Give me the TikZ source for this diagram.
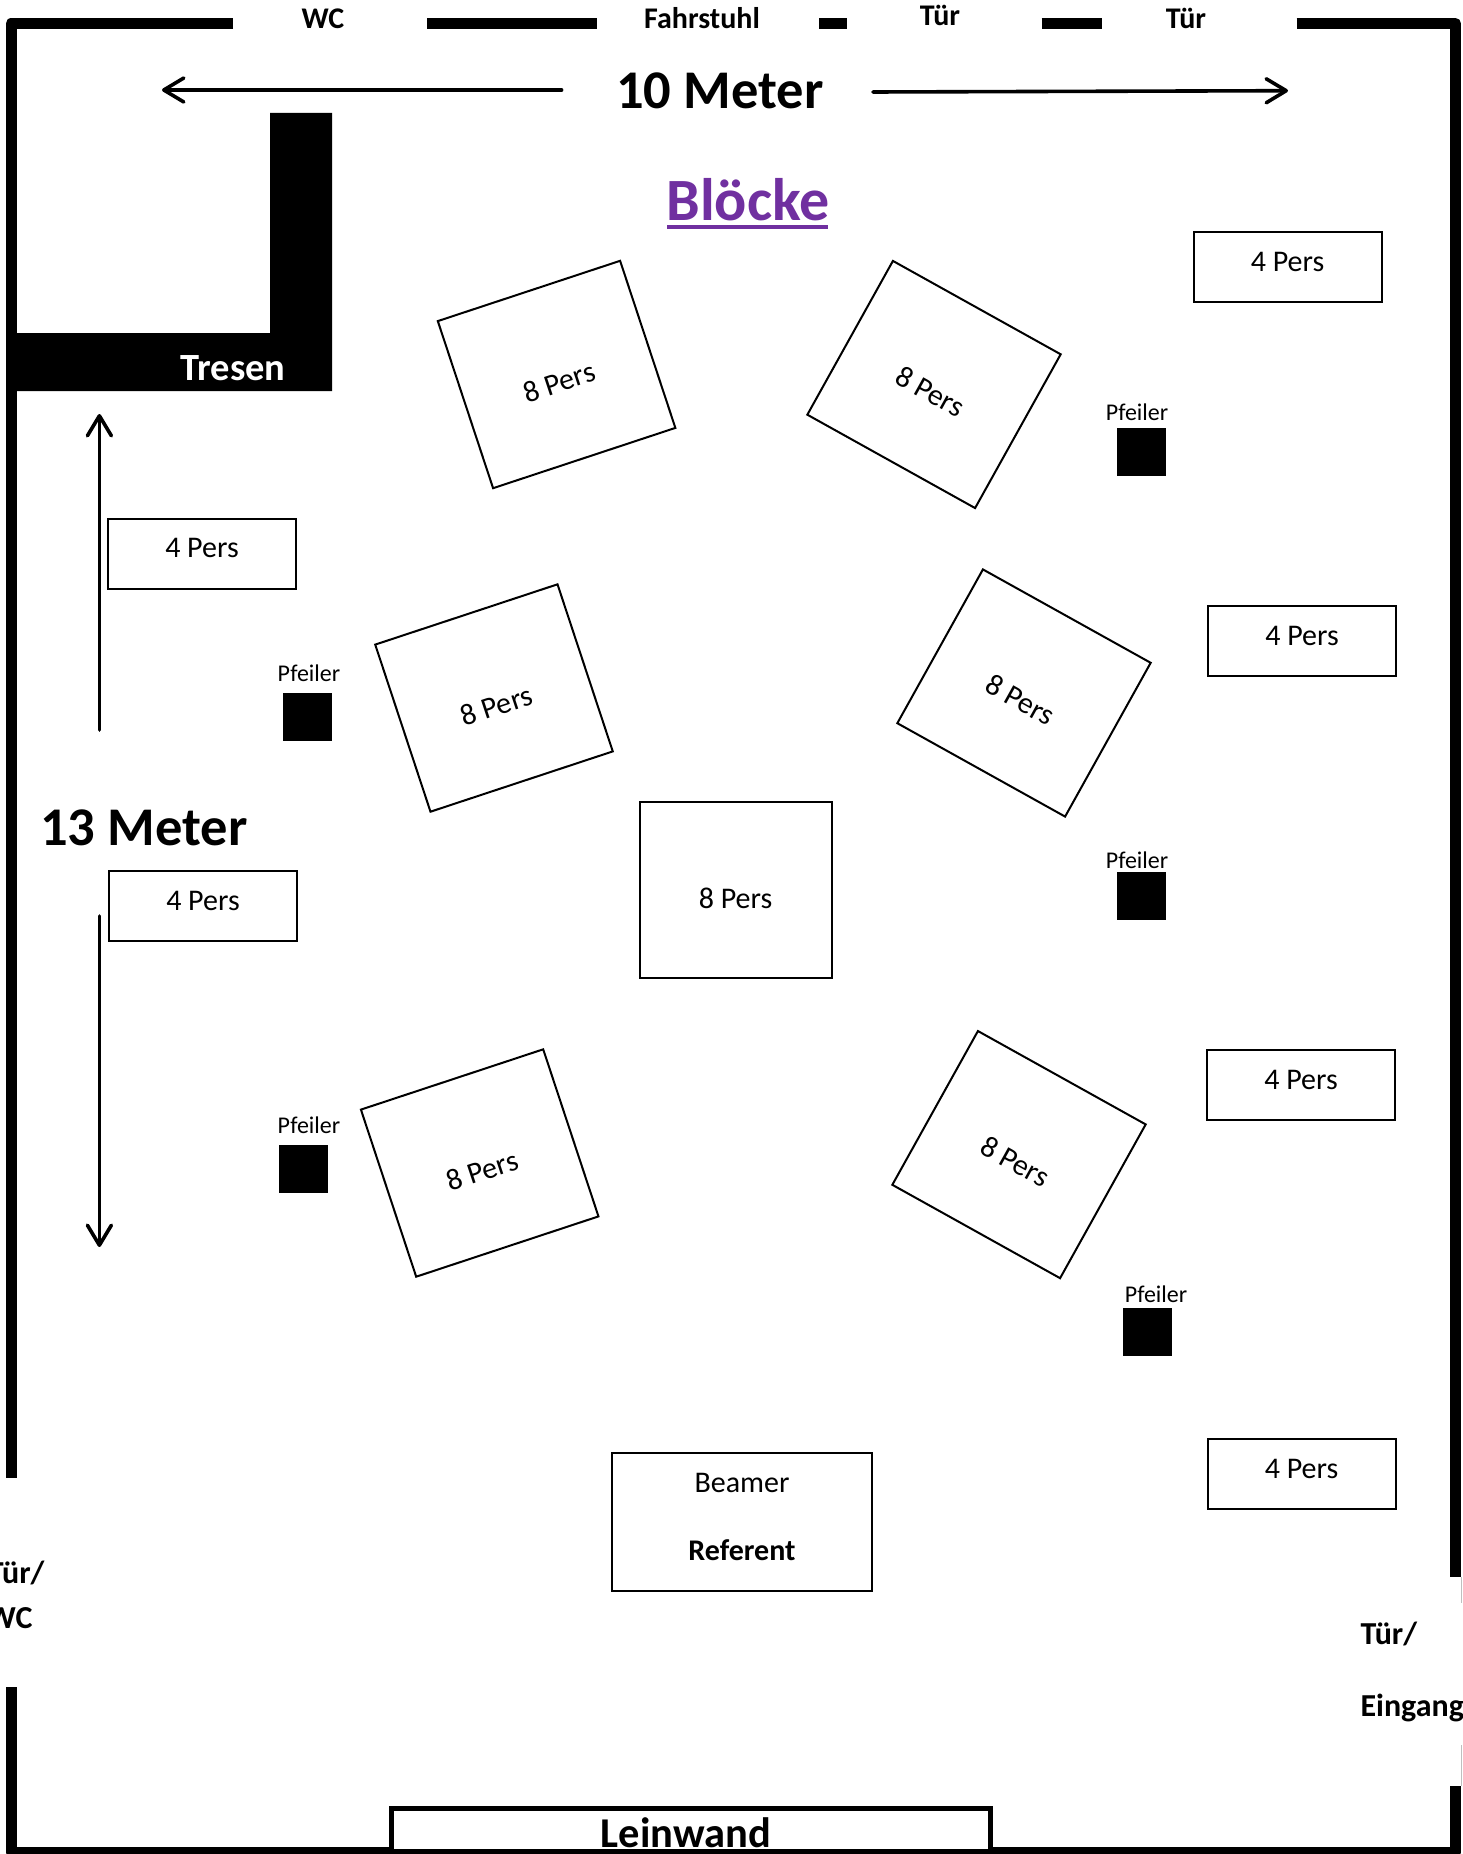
\documentclass[tikz,border=0pt]{standalone}
\usepackage{fontspec}
\setmainfont{Carlito}
\usepackage{tikz}
\usetikzlibrary{positioning,arrows.meta}

\definecolor{blockpurple}{HTML}{7030A0}
\newcommand{\persfont}{\fontsize{30}{35}\selectfont}
\newcommand{\doorfont}{\fontsize{30}{35}\selectfont\bfseries}
\newcommand{\bigfont}{\fontsize{54.5}{60}\selectfont\bfseries}

\tikzset{
  wall/.style={line width=11pt,line join=round},
  dimarrow/.style={line width=3.6pt,line cap=round,
    -{Straight Barb[length=20pt,width=24pt,line width=3.6pt,round]}},
  persbox/.style={draw,line width=2pt,inner sep=0pt,minimum width=188pt,minimum height=70pt,font=\persfont},
  blockbox/.style={draw,line width=2pt,inner sep=0pt,minimum width=192pt,minimum height=176pt,font=\persfont},
  pillar/.style={fill=black,inner sep=0pt,minimum width=49pt,minimum height=48pt},
  pillartext/.style={anchor=base,font=\fontsize{24}{28}\selectfont},
  doorlabel/.style={anchor=base,font=\doorfont},
  sidelabel/.style={font=\fontsize{32}{36}\selectfont\bfseries},
  biglabel/.style={anchor=base,font=\bigfont}
}

\begin{document}
\begin{tikzpicture}[x=1pt,y=-1pt]
    \useasboundingbox (0,0) rectangle (1462,1854);

    % walls
    \draw[wall] (233,23.5) -- (11,23.5) -- (11,1478);
    \draw[wall] (427,23.5) -- (597,23.5);
    \draw[wall] (819,23.5) -- (847,23.5);
    \draw[wall] (1041.5,23.5) -- (1102,23.5);
    \draw[wall] (1296.5,23.5) -- (1455.5,23.5) -- (1455.5,1577);
    \draw[wall] (11,1687) -- (11,1852) -- (1455.5,1852) -- (1455.5,1786);
    \draw[gray!50,line width=1pt] (1461,1577) -- (1461,1603);
    \draw[gray!50,line width=1pt] (1461,1745) -- (1461,1786);

    % doors
    \node[doorlabel] (doorwc) at (323,29) {WC};
    \node[doorlabel] (doorlift) at (702,29) {Fahrstuhl};
    \node[doorlabel] (doorone) at (940,25.5) {Tür};
    \node[doorlabel] (doortwo) at (1186,29) {Tür};
    \node[doorlabel,sidelabel,anchor=base east] (doorleft) at (48,1583) {Tür/};
    \node[doorlabel,sidelabel,anchor=base east] (doorleftwc) at (36,1628) {WC};
    \node[doorlabel,sidelabel,anchor=base west] (doorright) at (1357,1644) {Tür/};
    \node[doorlabel,sidelabel,anchor=base west] (doorentry) at (1357,1716) {Eingang};

    % counter
    \fill (270,113) -- (332,113) -- (332,391) -- (16.5,391) -- (16.5,333) -- (270,333) -- cycle;
    \node[doorlabel,text=white,font=\fontsize{38.5}{42}\selectfont\bfseries] (tresen) at (233,380) {Tresen};

    % room size
    \node[biglabel] (widthlabel) at (720,109) {10 Meter};
    \node[biglabel] (heightlabel) at (144,845) {13 Meter};
    \coordinate (widthleftstart) at (561.6,90);
    \coordinate (widthleftend) at (162,90);
    \coordinate (widthrightstart) at (873,92);
    \coordinate (widthrightend) at (1288,90.7);
    \coordinate (heightupstart) at (99.4,730);
    \coordinate (heightupend) at (99.4,414);
    \coordinate (heightdownstart) at (99.4,916);
    \coordinate (heightdownend) at (99.4,1247);
    \draw[dimarrow] (widthleftstart) -- (widthleftend);
    \draw[dimarrow] (widthrightstart) -- (widthrightend);
    \draw[dimarrow] (heightupstart) -- (heightupend);
    \draw[dimarrow] (heightdownstart) -- (heightdownend);

    % heading
    \node[biglabel,text=blockpurple,font=\fontsize{60}{64}\selectfont\bfseries] (heading) at (748,220) {Blöcke};
    \coordinate (headingleft) at (667,227);
    \coordinate (headingright) at (828,227);
    \draw[blockpurple,line width=4pt] (headingleft) -- (headingright);

    % blocks
    \foreach \name/\x/\y/\ang in {blockA/556.6/374.5/18.3,blockB/934/384.5/-29.1,
      blockC/494/698/18.3,blockD/1024/693/-29.1,blockE/735.5/890/0,
      blockF/479.7/1163/18.3,blockG/1019/1154.6/-29.1}
    {
      \node[blockbox,rotate=\ang] (\name) at (\x,\y) {\raisebox{-18pt}[0pt][0pt]{8 Pers}};
    }

    % small tables
    \foreach \name/\x/\y in {tableA/1287.5/267,tableB/1302/641,tableC/1301/1085,
      tableD/1301.5/1474,tableE/202/553.6,tableF/203/906}
    {
      \node[persbox] (\name) at (\x,\y) {\raisebox{-4pt}[0pt][0pt]{4 Pers}};
    }

    % pillars
    \foreach \name/\x/\y/\tx/\ty in {pillarA/1141.5/452/1137/420,pillarB/307.5/717/309/681,
      pillarC/1141.5/895.5/1137/868,pillarD/303/1169/309/1133,pillarE/1147.5/1332/1156/1302}
    {
      \node[pillar] (\name) at (\x,\y) {};
      \node[pillartext] (\name text) at (\tx,\ty) {Pfeiler};
    }

    % beamer
    \node[draw,line width=2pt,minimum width=260pt,minimum height=138pt] (beamerbox) at (742,1522) {};
    \node[anchor=base,font=\persfont] (beamer) at (742,1492) {Beamer};
    \node[anchor=base,font=\persfont\bfseries] (referent) at (742,1560) {Referent};

    % screen
    \node[draw,fill=white,line width=5pt,minimum width=599pt,minimum height=42.5pt] (screen) at (691,1829.75) {};
    \node[doorlabel,font=\fontsize{42.5}{46}\selectfont\bfseries] (screentext) at (686,1847) {Leinwand};
\end{tikzpicture}
\end{document}
